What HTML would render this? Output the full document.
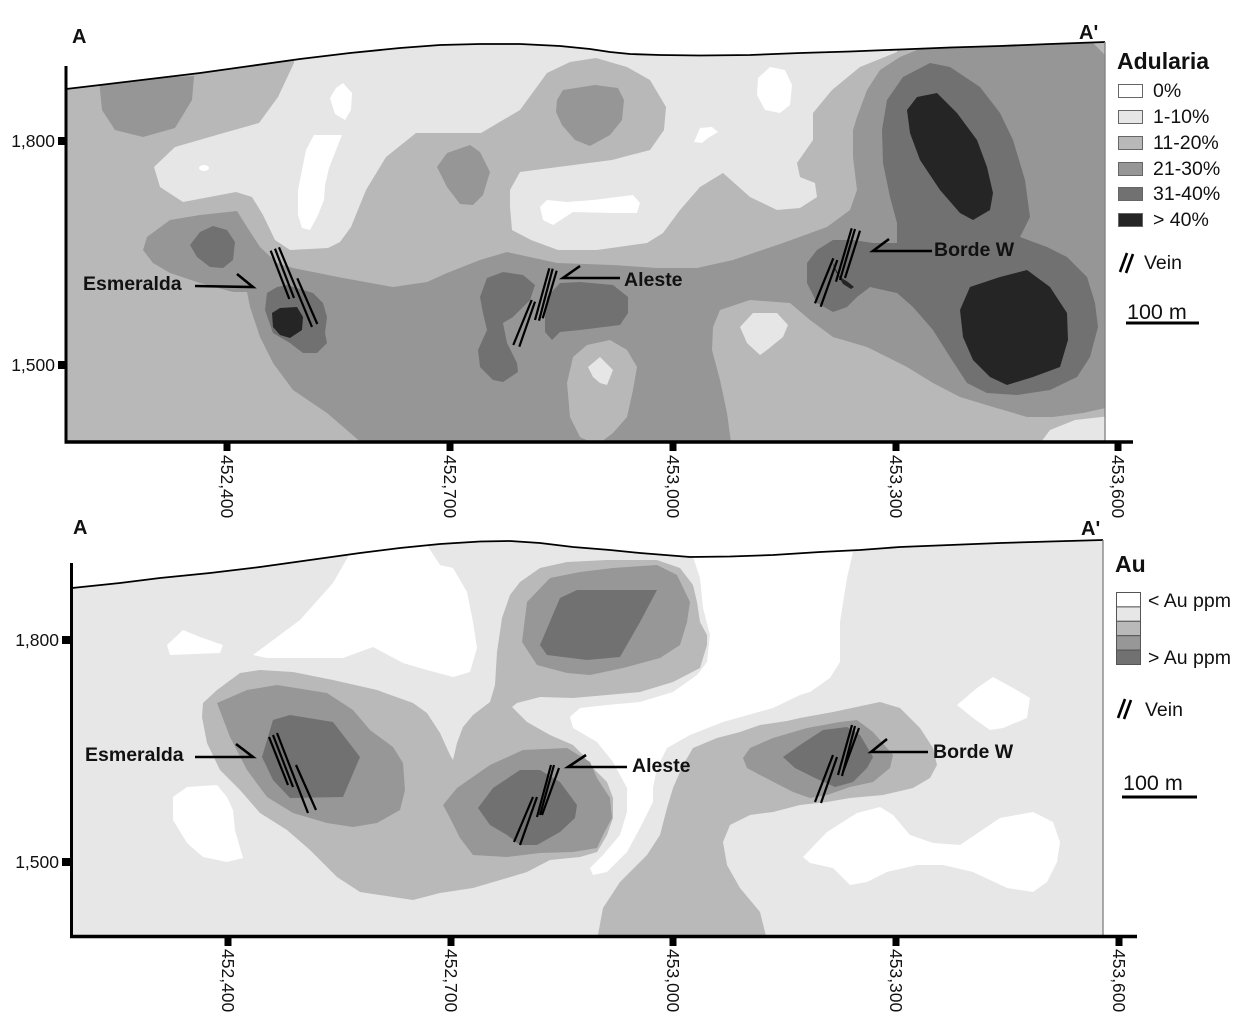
<!DOCTYPE html>
<html><head><meta charset="utf-8"><style>html,body{margin:0;padding:0;background:#fff}svg{display:block}</style></head>
<body>
<svg width="1245" height="1017" viewBox="0 0 1245 1017" xmlns="http://www.w3.org/2000/svg" font-family="'Liberation Sans', Arial, sans-serif">
<defs>
<clipPath id="c1"><polygon points="66,89 100,85 150,79 200,73 250,66 300,59 350,53 400,48 440,45 480,44 520,44 560,46 590,49 610,52 630,54 660,55 700,55.5 750,55 800,53 850,51.5 900,49.5 950,47.5 1000,46 1050,44 1105,42 1105,442 66,442"/></clipPath>
<clipPath id="c2"><polygon points="72,588 120,583 160,578 210,573 260,567 310,560 360,553 400,548 440,544 480,541.5 510,541 540,543 573,547 610,550 640,553 690,557 730,556.5 773,555 820,552 860,550 900,547 950,545 1000,543 1050,541.5 1103,540 1103,936 72,936"/></clipPath>
</defs>

<!-- ================= PANEL 1 ================= -->
<g clip-path="url(#c1)">
<rect x="60" y="30" width="1060" height="420" fill="#b8b8b8"/>
<polygon fill="#e6e6e6" points="294,30 897,30 897,52 860,67 832,90 813,113 813,140 797,163 800,177 815,183 817,197 800,208 777,210 750,197 723,173 700,187 680,210 663,233 647,243 597,250 558,250 531,240 512,230 510,207 510,190 520,172 558,167 612,160 650,150 664,130 666,107 650,80 627,67 596,58 570,62 547,73 520,110 481,133 416,133 386,157 366,190 351,227 340,242 328,248 290,250 275,240 263,215 252,197 236,192 183,202 160,187 154,167 175,147 220,134 259,123 278,97 294,63"/>
<g fill="#ffffff">
<polygon points="343,83 352,93 351,110 345,120 335,114 330,98 336,88"/>
<polygon points="314,135 342,135 336,150 329,168 325,185 324,200 318,215 310,230 302,228 298,215 298,190 302,170 306,150"/>
<ellipse cx="204" cy="168" rx="5" ry="3"/>
<polygon points="540,207 547,200 567,202 593,200 633,195 640,203 637,213 613,213 573,212 553,225 543,220"/>
<polygon points="770,67 785,70 792,85 790,105 780,113 765,110 757,95 758,78"/>
<polygon points="700,128 712,127 718,132 708,138 702,143 694,142 697,135"/>
</g>
<polygon fill="#969696" points="143,250 147,237 170,220 200,215 237,211 247,227 260,247 277,263 293,268 343,278 393,287 427,282 447,273 480,260 507,252 557,263 613,265 657,268 697,268 733,260 783,243 827,227 850,210 857,190 853,157 853,130 857,117 867,90 880,70 900,57 917,50 917,30 1110,30 1110,407 1083,413 1053,417 1027,417 993,407 960,397 933,383 907,367 887,357 867,347 833,337 810,320 790,303 750,300 720,310 713,327 712,350 720,380 727,413 732,450 370,450 327,413 293,390 273,363 260,337 250,307 247,292 233,292 200,283 170,273 153,263"/>
<polygon fill="#b8b8b8" points="1088,38 1110,38 1110,60"/>
<polygon fill="#e6e6e6" points="1035,450 1050,430 1075,420 1110,416 1110,450"/>
<polygon fill="#e6e6e6" points="740,327 753,313 777,313 788,325 783,337 767,350 760,355 747,343"/>
<polygon fill="#b8b8b8" points="567,383 573,357 587,345 610,340 627,350 637,367 633,390 627,417 613,433 597,445 580,437 570,417"/>
<polygon fill="#e6e6e6" points="588,367 600,357 613,370 607,385 600,383 593,377"/>
<g fill="#969696">
<polygon points="99,80 150,78 194,76 192,100 175,128 143,137 115,130 102,110"/>
<polygon points="437,167 447,153 470,145 480,152 490,172 483,195 473,205 460,204 447,187"/>
<polygon points="557,100 563,90 595,85 618,88 624,100 622,120 610,135 590,146 575,140 562,125 556,112"/>
</g>
<g fill="#717171">
<polygon points="190,245 200,232 213,226 227,230 235,242 233,260 223,268 210,267 197,257"/>
<polygon points="267,293 277,287 287,285 313,293 323,303 327,317 325,333 327,343 317,353 303,353 290,343 273,333 265,310"/>
<polygon points="480,297 487,278 503,272 523,275 535,285 530,300 513,317 503,323 507,343 517,363 518,372 503,382 493,380 480,367 478,350 487,330 483,313"/>
<polygon points="545,317 547,297 560,283 580,282 613,285 628,297 628,313 620,325 580,330 560,332 552,340 545,332"/>
<polygon points="882,130 887,100 903,77 930,63 950,67 980,87 1000,113 1013,140 1025,180 1030,217 1020,237 1047,247 1067,257 1087,277 1095,303 1098,327 1090,357 1077,377 1050,390 1017,395 987,393 967,383 950,357 933,330 913,307 897,293 870,287 857,297 847,307 833,312 817,303 807,283 807,263 817,250 833,240 853,240 873,243 897,243 897,223 890,197 883,163"/>
</g>
<g fill="#252525">
<polygon points="272,313 280,308 297,307 303,317 302,330 290,338 280,335 273,327"/>
<polygon points="907,110 917,97 937,93 957,113 977,140 987,167 993,193 990,210 973,220 960,213 940,190 920,160 910,133"/>
<polygon points="960,310 970,287 1000,277 1027,270 1050,287 1067,313 1068,340 1060,367 1033,377 1007,385 990,377 973,360 963,337"/>
<polygon points="832,262 840,277 848,282 854,287 851,289 843,284 836,272"/>
</g>
</g>
<polyline fill="none" stroke="#000" stroke-width="1.8" points="66,89 100,85 150,79 200,73 250,66 300,59 350,53 400,48 440,45 480,44 520,44 560,46 590,49 610,52 630,54 660,55 700,55.5 750,55 800,53 850,51.5 900,49.5 950,47.5 1000,46 1050,44 1105,42"/>
<line x1="1105" y1="42" x2="1105" y2="442" stroke="#808080" stroke-width="1.3"/>
<g stroke="#000" stroke-width="2.2" fill="none">
<line x1="270.7" y1="250.7" x2="289.3" y2="299"/>
<line x1="275" y1="248.7" x2="294" y2="298"/>
<line x1="279" y1="247.3" x2="312" y2="327"/>
<line x1="297.3" y1="278.3" x2="317.3" y2="324"/>
<line x1="549.3" y1="268.3" x2="535" y2="320"/>
<line x1="552.7" y1="268.7" x2="539" y2="320.7"/>
<line x1="556.7" y1="270.7" x2="542.7" y2="318.3"/>
<line x1="531.7" y1="300" x2="513.3" y2="345"/>
<line x1="535" y1="301.7" x2="519.3" y2="346.7"/>
<line x1="851.7" y1="228.3" x2="836" y2="281.7"/>
<line x1="855" y1="229" x2="840" y2="280"/>
<line x1="860" y1="230.7" x2="845" y2="278"/>
<line x1="833.3" y1="258.3" x2="815" y2="303.3"/>
<line x1="837.3" y1="260" x2="820.7" y2="306.7"/>
</g>
<g stroke="#000" stroke-width="2.6" fill="none">
<polyline points="195,286 253,287 237,274"/>
<polyline points="620,278 563,278 580,266"/>
<polyline points="932,251 873,251 889,239"/>
</g>
<g font-weight="bold" font-size="19.5" fill="#111">
<text x="83" y="290">Esmeralda</text>
<text x="624" y="286">Aleste</text>
<text x="934" y="256">Borde W</text>
</g>
<line x1="66" y1="66" x2="66" y2="443.5" stroke="#000" stroke-width="3"/>
<line x1="64.5" y1="442" x2="1133" y2="442" stroke="#000" stroke-width="3.5"/>
<g fill="#000">
<rect x="58" y="137" width="8" height="8"/><rect x="58" y="361" width="8" height="8"/>
<rect x="223.5" y="443" width="7" height="8"/><rect x="446.5" y="443" width="7" height="8"/><rect x="669.5" y="443" width="7" height="8"/><rect x="892.5" y="443" width="7" height="8"/><rect x="1114.5" y="443" width="7" height="8"/>
</g>
<g font-size="17.5" fill="#111">
<text x="55" y="147" text-anchor="end">1,800</text>
<text x="55" y="371" text-anchor="end">1,500</text>
<text transform="translate(221,455) rotate(90)">452,400</text>
<text transform="translate(444,455) rotate(90)">452,700</text>
<text transform="translate(667,455) rotate(90)">453,000</text>
<text transform="translate(890,455) rotate(90)">453,300</text>
<text transform="translate(1112,455) rotate(90)">453,600</text>
</g>
<g font-weight="bold" font-size="20" fill="#111">
<text x="72" y="43">A</text>
<text x="1079" y="39">A'</text>
</g>
<text x="1117" y="69" font-weight="bold" font-size="23" fill="#111">Adularia</text>
<g stroke="#666" stroke-width="1">
<rect x="1118.5" y="84.5" width="24" height="13" fill="#ffffff"/>
<rect x="1118.5" y="110.5" width="24" height="13" fill="#e6e6e6"/>
<rect x="1118.5" y="136.5" width="24" height="13" fill="#b8b8b8"/>
<rect x="1118.5" y="162.5" width="24" height="13" fill="#969696"/>
<rect x="1118.5" y="187.5" width="24" height="13" fill="#717171"/>
<rect x="1118.5" y="213.5" width="24" height="13" fill="#252525"/>
</g>
<g font-size="19.5" fill="#111">
<text x="1153" y="97">0%</text>
<text x="1153" y="123">1-10%</text>
<text x="1153" y="149">11-20%</text>
<text x="1153" y="175">21-30%</text>
<text x="1153" y="200">31-40%</text>
<text x="1153" y="226">&gt; 40%</text>
<text x="1144" y="269">Vein</text>
<text x="1127" y="319" font-size="21.5">100 m</text>
</g>
<g stroke="#000" stroke-width="2.6">
<line x1="1120" y1="272" x2="1127" y2="253"/>
<line x1="1126" y1="273" x2="1133" y2="254"/>
<line x1="1126" y1="323" x2="1199" y2="323" stroke-width="3"/>
</g>

<!-- ================= PANEL 2 ================= -->
<g clip-path="url(#c2)">
<rect x="60" y="520" width="1060" height="430" fill="#e7e7e7"/>
<g fill="#ffffff">
<polygon points="167,645 183,630 200,637 223,645 220,653 170,655"/>
<polygon points="253,655 300,620 333,583 353,548 353,530 417,530 440,565 453,568 467,592 473,622 477,648 470,672 453,677 427,670 403,663 373,647 343,658 293,658 267,658"/>
<polygon points="173,797 187,787 217,785 227,797 233,810 235,830 243,858 227,862 203,857 187,843 173,820"/>
<polygon points="693,530 853,530 853,552 847,578 840,622 840,662 830,678 810,692 800,695 773,708 723,722 690,735 667,748 657,768 653,788 653,802 640,828 627,852 607,872 593,875 590,868 603,855 620,835 627,812 627,788 613,762 597,742 573,728 570,717 580,708 607,705 640,702 673,692 697,675 707,662 710,635 703,608 700,578 693,557"/>
<polygon points="957,705 977,688 993,677 1013,688 1030,698 1027,718 1003,728 990,730 973,718"/>
<polygon points="803,857 827,832 857,813 880,807 893,815 910,835 933,843 960,845 1000,818 1033,812 1053,822 1060,842 1057,862 1047,882 1033,892 1007,888 973,872 943,865 917,865 887,872 867,882 850,885 833,868 810,863"/>
</g>
<g fill="#b9b9b9">
<polygon points="203,703 217,690 240,673 260,670 293,672 333,680 377,690 413,703 427,713 440,733 450,755 453,760 457,743 463,727 473,715 490,702 495,685 497,652 502,618 510,595 520,582 540,568 567,562 607,560 657,560 680,568 693,585 697,602 700,622 707,635 707,645 700,668 673,682 640,692 607,695 573,698 540,697 517,703 512,707 527,722 550,735 573,745 583,755 593,768 607,782 613,798 613,818 607,835 597,852 580,857 550,860 527,872 507,878 473,888 440,893 413,900 393,897 360,892 337,877 310,850 287,830 260,813 240,790 220,770 207,743 202,717"/>
<polygon points="597,940 603,908 620,882 647,855 660,835 667,808 673,788 683,765 693,748 717,738 740,732 760,725 787,721 800,718 833,712 880,702 900,708 920,728 933,748 937,765 930,778 913,788 883,795 850,798 827,802 800,805 773,812 750,815 730,825 723,842 727,865 740,888 760,912 767,940"/>
</g>
<g fill="#979797">
<polygon points="217,703 247,690 277,685 327,693 353,710 370,730 393,747 403,763 405,790 400,810 377,823 353,827 327,823 293,813 267,797 247,770 230,737"/>
<polygon points="443,805 457,788 490,765 523,750 567,748 590,762 597,778 610,798 612,818 603,835 597,848 573,852 540,853 507,857 473,855 460,838 450,818"/>
<polygon points="522,642 527,602 550,578 580,572 613,568 657,565 677,575 690,602 687,622 680,645 660,658 623,668 590,675 567,673 537,665"/>
<polygon points="743,758 750,748 773,738 807,728 840,722 857,720 873,732 893,755 890,768 873,782 850,787 827,795 810,798 793,792 760,775 747,768"/>
</g>
<g fill="#717171">
<polygon points="262,757 273,720 290,715 333,722 360,757 343,797 290,798 273,780"/>
<polygon points="478,808 493,788 520,770 540,770 560,782 577,805 575,818 560,832 537,845 520,845 507,835 490,825"/>
<polygon points="540,645 560,598 577,590 657,590 640,622 620,657 587,660 547,655"/>
<polygon points="783,757 800,745 823,730 847,727 860,735 873,757 867,768 853,782 835,787 815,778 795,768"/>
</g>
</g>
<polyline fill="none" stroke="#000" stroke-width="1.8" points="72,588 120,583 160,578 210,573 260,567 310,560 360,553 400,548 440,544 480,541.5 510,541 540,543 573,547 610,550 640,553 690,557 730,556.5 773,555 820,552 860,550 900,547 950,545 1000,543 1050,541.5 1103,540"/>
<line x1="1103" y1="540" x2="1103" y2="936" stroke="#808080" stroke-width="1.3"/>
<g stroke="#000" stroke-width="2.2" fill="none">
<line x1="269" y1="737" x2="288" y2="785"/>
<line x1="273" y1="735" x2="293" y2="787"/>
<line x1="277" y1="733" x2="308" y2="813"/>
<line x1="296" y1="765" x2="316" y2="810"/>
<line x1="551" y1="765" x2="537" y2="817"/>
<line x1="554" y1="765" x2="540" y2="815"/>
<line x1="559" y1="768" x2="542" y2="815"/>
<line x1="533" y1="797" x2="514" y2="842"/>
<line x1="537" y1="797" x2="520" y2="845"/>
<line x1="852" y1="725" x2="838" y2="775"/>
<line x1="855" y1="726" x2="842" y2="776"/>
<line x1="859" y1="728" x2="843" y2="772"/>
<line x1="833" y1="755" x2="815" y2="802"/>
<line x1="837" y1="757" x2="821" y2="803"/>
</g>
<g stroke="#000" stroke-width="2.6" fill="none">
<polyline points="195,757 253,757 236,744"/>
<polyline points="627,767 568,767 586,755"/>
<polyline points="928,752 871,752 887,739"/>
</g>
<g font-weight="bold" font-size="19.5" fill="#111">
<text x="85" y="761">Esmeralda</text>
<text x="632" y="772">Aleste</text>
<text x="933" y="758">Borde W</text>
</g>
<line x1="71.5" y1="563" x2="71.5" y2="938" stroke="#000" stroke-width="3"/>
<line x1="70" y1="936.5" x2="1137" y2="936.5" stroke="#000" stroke-width="3.5"/>
<g fill="#000">
<rect x="62" y="636" width="8" height="8"/><rect x="62" y="858" width="8" height="8"/>
<rect x="224.5" y="937" width="7" height="9"/><rect x="447.5" y="937" width="7" height="9"/><rect x="669.5" y="937" width="7" height="9"/><rect x="892.5" y="937" width="7" height="9"/><rect x="1115.5" y="937" width="7" height="9"/>
</g>
<g font-size="17.5" fill="#111">
<text x="59" y="646" text-anchor="end">1,800</text>
<text x="59" y="868" text-anchor="end">1,500</text>
<text transform="translate(222,949) rotate(90)">452,400</text>
<text transform="translate(445,949) rotate(90)">452,700</text>
<text transform="translate(667,949) rotate(90)">453,000</text>
<text transform="translate(890,949) rotate(90)">453,300</text>
<text transform="translate(1113,949) rotate(90)">453,600</text>
</g>
<g font-weight="bold" font-size="20" fill="#111">
<text x="73" y="534">A</text>
<text x="1081" y="535">A'</text>
</g>
<text x="1115" y="572" font-weight="bold" font-size="23" fill="#111">Au</text>
<g stroke="#555" stroke-width="1">
<rect x="1116.5" y="592.5" width="24" height="14.4" fill="#ffffff"/>
<rect x="1116.5" y="606.9" width="24" height="14.4" fill="#e7e7e7"/>
<rect x="1116.5" y="621.3" width="24" height="14.4" fill="#b9b9b9"/>
<rect x="1116.5" y="635.7" width="24" height="14.4" fill="#979797"/>
<rect x="1116.5" y="650.1" width="24" height="14.4" fill="#717171"/>
</g>
<g font-size="19.5" fill="#111">
<text x="1148" y="607">&lt; Au ppm</text>
<text x="1148" y="664">&gt; Au ppm</text>
<text x="1145" y="716">Vein</text>
<text x="1123" y="790" font-size="21.5">100 m</text>
</g>
<g stroke="#000" stroke-width="2.6">
<line x1="1118" y1="718" x2="1125" y2="699"/>
<line x1="1124" y1="719" x2="1131" y2="700"/>
<line x1="1122" y1="797" x2="1197" y2="797" stroke-width="3"/>
</g>
</svg>
</body></html>
